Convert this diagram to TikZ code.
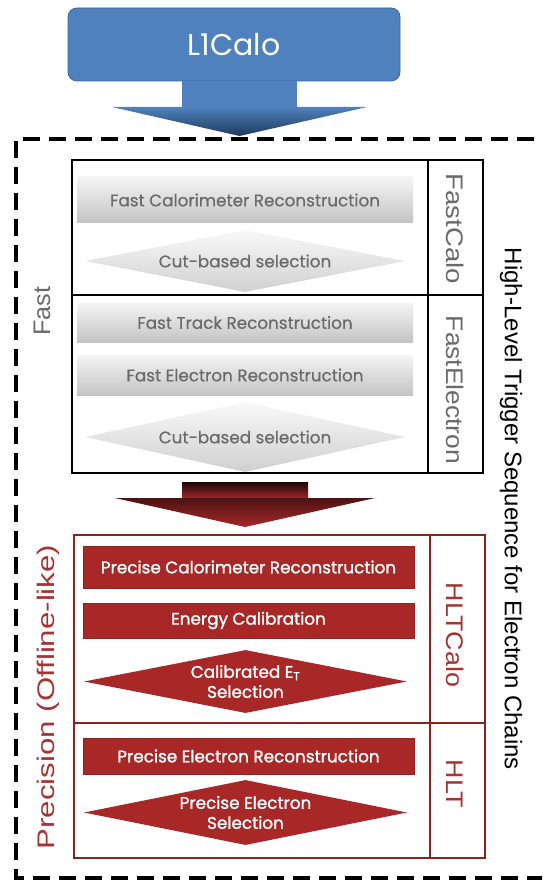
\documentclass[tikz,border=0pt]{standalone}
\usepackage{fontspec}
\setmainfont{Poppins}
\newfontfamily\grayfont[FakeBold=0.6]{Poppins}
\newfontfamily\redfont[FakeBold=1.4]{Poppins}
\newfontfamily\labelfont{Liberation Sans}
\usetikzlibrary{shapes.geometric}

\definecolor{lblue}{HTML}{4F81BD}
\definecolor{lblueedge}{HTML}{3B6797}
\definecolor{darkblue}{HTML}{1F3A5C}
\definecolor{hltred}{HTML}{A82828}
\definecolor{hltframe}{HTML}{8E2020}
\definecolor{hlttext}{HTML}{A63232}
\definecolor{fastgray}{HTML}{6A6A6A}
\definecolor{boxtop}{HTML}{F4F4F4}
\definecolor{boxbot}{HTML}{C4C4C4}

\newcommand{\wide}[2]{\scalebox{#1}[1]{#2}}

\tikzset{
  graybox/.style={rectangle, minimum width=336pt, minimum height=#1, inner sep=0pt,
    top color=boxtop, bottom color=boxbot, draw=none, text=fastgray,
    font=\grayfont\fontsize{16.8}{18}\selectfont},
  graydia/.style={diamond, aspect=5, inner sep=0pt, minimum width=320pt, minimum height=#1,
    top color=boxtop!60!white, bottom color=boxbot!80!white, draw=none, text=fastgray,
    font=\grayfont\fontsize{16.8}{18}\selectfont},
  redbox/.style={rectangle, minimum width=331pt, minimum height=#1, inner sep=0pt,
    fill=hltred, draw=hltred!85!black, line width=0.4pt, text=white,
    font=\redfont\fontsize{16.8}{18}\selectfont},
  reddia/.style={diamond, aspect=5, inner sep=0pt, minimum width=323pt, minimum height=#1,
    fill=hltred, draw=none, text=white, align=center,
    font=\redfont\fontsize{16.8}{20}\selectfont},
  sidelabel/.style={font=\labelfont\fontsize{24}{26}\selectfont, inner sep=0pt},
}

\begin{document}
\begin{tikzpicture}[x=1pt, y=-1pt]
  \useasboundingbox (0,0) rectangle (542,882);
  \clip (0,0) rectangle (542,882);

  % Level-1 input
  \node[rectangle, rounded corners=9pt, fill=lblue, draw=lblueedge, line width=0.8pt,
        minimum width=332pt, minimum height=73pt, inner sep=0pt, text=white,
        font=\fontsize{30}{32}\selectfont] (l1) at (234,44.5) {L1Calo};

  % blue block arrow into the HLT sequence
  \coordinate (btip) at (239.5,136);
  \fill[lblue] (182,81) -- (297,81) -- (297,108) -- (182,108) -- cycle;
  \shade[top color=lblue, bottom color=darkblue]
    (112,107) -- (367,107) -- (btip) -- cycle;

  % dashed outline of the HLT sequence (right side runs off the page)
  \draw[line width=3.2pt, dash pattern=on 17pt off 9pt]
    (560,139) -- (16,139) -- (16,878) -- (560,878);

  % Fast stage
  \draw[line width=2.8pt] (72,160) rectangle (483,473);
  \draw[line width=2.2pt] (428,160) -- (428,473);
  \draw[line width=2.2pt] (72,295) -- (483,295);

  \node[graybox=46pt] (fcr) at (245,200) {Fast Calorimeter Reconstruction};
  \node[graydia=62pt] (fcs) at (245,261) {Cut-based selection};
  \node[graybox=39pt] (ftr) at (245,322.5) {Fast Track Reconstruction};
  \node[graybox=40pt] (fer) at (245,375) {Fast Electron Reconstruction};
  \node[graydia=70pt] (fes) at (245,437) {Cut-based selection};

  \node[sidelabel, text=fastgray, rotate=-90] (fastcalo) at (455,229) {\wide{1.15}{FastCalo}};
  \node[sidelabel, text=fastgray, rotate=-90] (fastele) at (455,390) {\wide{1.1}{FastElectron}};
  \node[sidelabel, text=fastgray, rotate=90] (fastlbl) at (42,311) {\wide{1.05}{Fast}};

  % dark red block arrow between the stages
  \shade[top color=black!85!hltred, bottom color=hltred]
    (182,482) -- (308,482) -- (308,499) -- (182,499) -- cycle;
  \shade[top color=black!55!hltred, bottom color=hltred]
    (115,498) -- (375,498) -- (245,527) -- cycle;

  % Precision stage
  \draw[hltframe, line width=2.6pt] (74,535) rectangle (485,858);
  \draw[hltframe, line width=2pt] (430,535) -- (430,858);
  \draw[hltframe, line width=2pt] (74,723) -- (485,723);

  \node[redbox=42pt] (pcr) at (248.5,567) {Precise Calorimeter Reconstruction};
  \node[redbox=35pt] (ecal) at (248.5,620.5) {Energy Calibration};
  \node[reddia=63pt] (ets) at (245.5,681.5) {Calibrated E\textsubscript{T}\\Selection};
  \node[redbox=36pt] (per) at (248.5,756) {Precise Electron Reconstruction};
  \node[reddia=65pt] (pes) at (245.5,812.5) {Precise Electron\\Selection};

  \node[sidelabel, text=hlttext, rotate=-90] (hltcalo) at (455,635) {\wide{1.12}{HLTCalo}};
  \node[sidelabel, text=hlttext, rotate=-90] (hlt) at (455,784) {\wide{1.12}{HLT}};
  \node[sidelabel, text=hlttext, rotate=90] (preclbl) at (48,697)
    {\wide{1.3}{Precision (Offline-like)}};

  % overall caption
  \node[sidelabel, text=black, rotate=-90] (seq) at (511,509)
    {High-Level Trigger Sequence for Electron Chains};
\end{tikzpicture}
\end{document}
